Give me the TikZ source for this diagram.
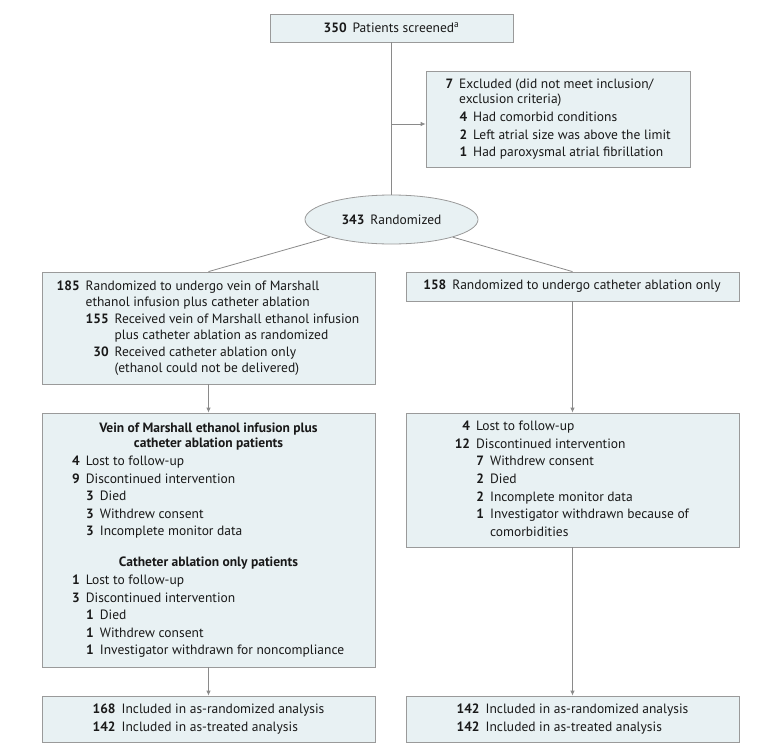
\documentclass[tikz,border=0pt]{standalone}
\usepackage{fontspec}
\setmainfont{PT Sans}
\usepackage{tikz}
\usetikzlibrary{shapes.geometric,arrows.meta}
\definecolor{boxfill}{HTML}{E8F1F3}
\definecolor{boxline}{HTML}{9A9A9A}
\definecolor{flowline}{HTML}{8A8A8A}
\newcommand{\nr}[2]{\makebox[#1][r]{\textbf{#2}}\hspace{6pt}}
\newcommand{\hd}[1]{\multicolumn{1}{@{}c@{}}{\textbf{#1}}}

\begin{document}
\begin{tikzpicture}[x=1pt,y=-1pt,
    box/.style={draw=boxline,fill=boxfill,line width=0.8pt,inner sep=0pt,
      font=\fontsize{13.5}{17.6}\selectfont,text=black!90},
    flow/.style={draw=flowline,line width=0.8pt,-{Latex[length=5pt,width=4.5pt]}},
    link/.style={draw=flowline,line width=0.8pt}]
    \useasboundingbox (0,0) rectangle (780,755);
    \node[box,minimum width=243pt,minimum height=28pt] (scr) at (391.5,28)
      {\nr{23pt}{350}Patients screened\textsuperscript{a}};
    \node[box,minimum width=264pt,minimum height=96pt] (excl) at (558,119)
      {\begin{tabular}{@{}l@{}}
        \nr{8pt}{7}Excluded (did not meet inclusion/\\[-2pt]
        \hspace*{14pt}exclusion criteria)\\
        \nr{22pt}{4}Had comorbid conditions\\
        \nr{22pt}{2}Left atrial size was above the limit\\
        \nr{22pt}{1}Had paroxysmal atrial fibrillation
      \end{tabular}};
    \node[box,ellipse,minimum width=173pt,minimum height=49pt] (rand) at (391.5,219.5)
      {\textbf{343}\hspace{6pt}Randomized};
    \node[box,minimum width=333pt,minimum height=112pt] (l1) at (208.5,328)
      {\begin{tabular}{@{}l@{}}
        \nr{22pt}{185}Randomized to undergo vein of Marshall\\[-2pt]
        \hspace*{28pt}ethanol infusion plus catheter ablation\\
        \nr{51pt}{155}Received vein of Marshall ethanol infusion\\[-2pt]
        \hspace*{57pt}plus catheter ablation as randomized\\
        \nr{51pt}{30}Received catheter ablation only\\[-2pt]
        \hspace*{57pt}(ethanol could not be delivered)
      \end{tabular}};
    \node[box,minimum width=333pt,minimum height=29pt] (r1) at (572.5,286.5)
      {\nr{22pt}{158}Randomized to undergo catheter ablation only};
    \node[box,minimum width=333pt,minimum height=254pt] (l2) at (208.5,540)
      {\begin{tabular}{@{}l@{}}
        \hd{Vein of Marshall ethanol infusion plus}\\[-2pt]
        \hd{catheter ablation patients}\\
        \nr{7pt}{4}Lost to follow-up\\
        \nr{7pt}{9}Discontinued intervention\\
        \nr{21pt}{3}Died\\
        \nr{21pt}{3}Withdrew consent\\
        \nr{21pt}{3}Incomplete monitor data\\[13.4pt]
        \hd{Catheter ablation only patients}\\
        \nr{7pt}{1}Lost to follow-up\\
        \nr{7pt}{3}Discontinued intervention\\
        \nr{21pt}{1}Died\\
        \nr{21pt}{1}Withdrew consent\\
        \nr{21pt}{1}Investigator withdrawn for noncompliance
      \end{tabular}};
    \node[box,minimum width=333pt,minimum height=134pt] (r2) at (572.5,480)
      {\begin{tabular}{@{}l@{}}
        \nr{14pt}{4}Lost to follow-up\\
        \nr{14pt}{12}Discontinued intervention\\
        \nr{28pt}{7}Withdrew consent\\
        \nr{28pt}{2}Died\\
        \nr{28pt}{2}Incomplete monitor data\\
        \nr{28pt}{1}Investigator withdrawn because of\\
        \hspace*{34pt}comorbidities
      \end{tabular}};
    \node[box,minimum width=333pt,minimum height=46pt] (l3) at (208.5,719)
      {\begin{tabular}{@{}l@{}}
        \nr{23pt}{168}Included in as-randomized analysis\\
        \nr{23pt}{142}Included in as-treated analysis
      \end{tabular}};
    \node[box,minimum width=333pt,minimum height=46pt] (r3) at (572.5,719)
      {\begin{tabular}{@{}l@{}}
        \nr{23pt}{142}Included in as-randomized analysis\\
        \nr{23pt}{142}Included in as-treated analysis
      \end{tabular}};
    \coordinate (ex) at ([yshift=-5pt]excl.west);
    \coordinate (br) at (scr.south |- ex);
    \draw[link] (scr) -- (rand);
    \draw[flow] (br) -- (ex);
    \draw[link] (rand) -- (l1.north);
    \draw[link] (rand) -- (r1.north);
    \draw[flow] (l1) -- (l2);
    \draw[flow] (l2) -- (l3);
    \draw[flow] (r1) -- (r2);
    \draw[flow] (r2) -- (r3);
\end{tikzpicture}
\end{document}
